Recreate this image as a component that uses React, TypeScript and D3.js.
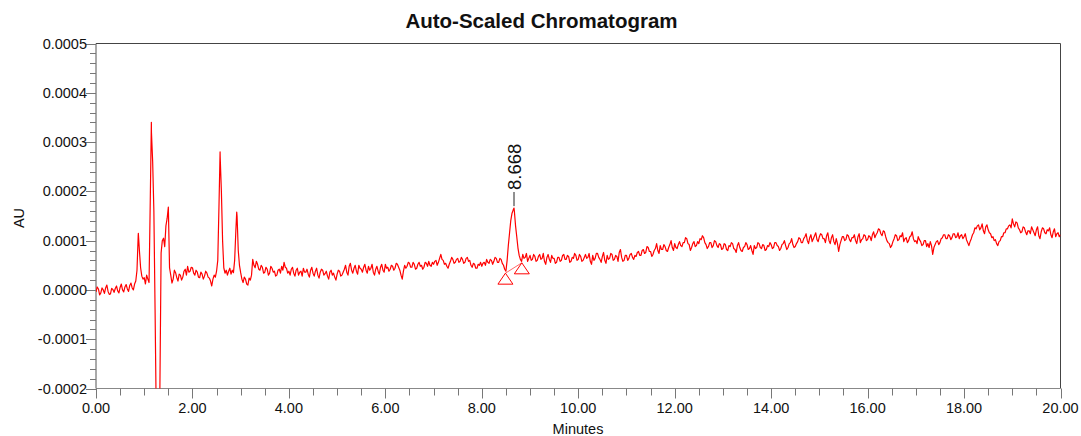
import * as d3 from 'd3';

const W = 1081;
const H = 436;

// detector sampling interval (minutes)
const SAMPLE_STEP = 0.025;

// absorbance in micro-AU, one value per SAMPLE_STEP from 0.000 to 20.000 min
const absorbance = [
  // 0 min
  -4, 6, 2, -10, -6, 4, 0, -7, 4, 10, -3, -9, -8, 3, 1, -5, 3, 8, -2, -6,
  5, 12, 0, -4, 6, 11, 2, -3, 9, 14, 4, 0, 12, 18, 40, 110, 80, 45, 28, 22,
  // 1 min
  25, 12, 30, 22, 15, 180, 320, 260, 160, -40, -260, -380, -420, -200, 75, 100, 105, 88, 130, 145,
  168, 45, 30, 14, 22, 40, 35, 25, 18, 32, 30, 20, 26, 38, 42, 30, 48, 36, 38, 46,
  // 2 min
  45, 34, 30, 40, 36, 26, 25, 36, 32, 22, 28, 38, 34, 26, 24, 18, 8, 22, 30, 26,
  38, 60, 170, 270, 200, 100, 45, 34, 40, 30, 38, 44, 32, 40, 35, 60, 120, 150, 80, 50,
  // 3 min
  35, 22, 15, 26, 22, 12, 10, 24, 20, 30, 62, 50, 45, 58, 52, 42, 40, 50, 46, 34,
  36, 46, 42, 30, 34, 48, 44, 36, 38, 28, 30, 40, 42, 34, 48, 40, 56, 46, 44, 34,
  // 4 min
  38, 30, 42, 46, 34, 28, 40, 44, 30, 36, 38, 28, 44, 36, 36, 42, 32, 26, 40, 46,
  34, 28, 38, 44, 30, 24, 36, 42, 40, 30, 33, 38, 28, 22, 36, 40, 30, 34, 26, 20,
  // 5 min
  32, 40, 38, 28, 30, 36, 42, 50, 36, 30, 48, 54, 40, 34, 44, 50, 38, 32, 50, 44,
  42, 36, 46, 52, 40, 34, 48, 40, 44, 52, 36, 30, 42, 48, 38, 32, 46, 52, 40, 36,
  // 6 min
  52, 44, 46, 38, 42, 50, 48, 40, 44, 54, 52, 46, 40, 30, 22, 38, 50, 44, 48, 56,
  54, 46, 46, 56, 52, 42, 44, 52, 56, 48, 50, 42, 46, 56, 54, 48, 58, 50, 48, 56,
  // 7 min
  52, 58, 60, 50, 56, 64, 72, 62, 60, 52, 54, 48, 44, 52, 58, 66, 62, 54, 56, 62,
  64, 56, 58, 66, 62, 54, 56, 64, 66, 58, 60, 50, 46, 54, 52, 44, 44, 52, 50, 56,
  // 8 min
  48, 54, 56, 50, 62, 56, 54, 62, 60, 52, 58, 66, 64, 56, 56, 64, 62, 54, 50, 42,
  38, 60, 90, 115, 140, 155, 162, 160, 130, 108, 85, 70, 62, 58, 72, 64, 66, 74, 58, 64,
  // 9 min
  70, 60, 62, 72, 68, 58, 60, 68, 72, 62, 64, 74, 58, 52, 66, 72, 62, 56, 70, 64,
  64, 54, 56, 66, 66, 58, 60, 70, 72, 62, 62, 70, 68, 56, 58, 66, 64, 74, 70, 60,
  // 10 min
  62, 72, 68, 58, 60, 66, 72, 64, 66, 74, 58, 52, 70, 60, 64, 74, 74, 66, 62, 56,
  68, 76, 60, 54, 70, 62, 64, 74, 72, 60, 62, 70, 68, 58, 76, 82, 66, 58, 60, 70,
  // 11 min
  70, 60, 64, 72, 74, 66, 62, 70, 68, 76, 78, 70, 70, 80, 82, 74, 76, 88, 86, 78,
  78, 68, 72, 80, 84, 94, 80, 74, 90, 82, 82, 92, 88, 80, 78, 86, 92, 100, 86, 80,
  // 12 min
  94, 86, 84, 92, 98, 90, 88, 96, 96, 106, 104, 94, 92, 80, 86, 94, 98, 88, 90, 98,
  94, 104, 102, 110, 106, 96, 92, 84, 88, 96, 96, 86, 90, 100, 98, 90, 86, 94, 92, 82,
  // 13 min
  84, 94, 92, 82, 80, 90, 88, 96, 94, 84, 82, 76, 90, 96, 86, 80, 78, 86, 88, 96,
  92, 82, 84, 90, 80, 72, 90, 84, 86, 96, 94, 86, 84, 92, 90, 80, 82, 90, 88, 96,
  // 14 min
  92, 84, 86, 96, 96, 90, 88, 80, 84, 92, 94, 100, 90, 82, 86, 94, 96, 104, 92, 86,
  88, 94, 98, 106, 104, 96, 96, 104, 108, 114, 100, 94, 106, 112, 98, 104, 110, 116, 102, 98,
  // 15 min
  108, 114, 112, 104, 104, 96, 110, 116, 100, 94, 106, 112, 98, 92, 104, 94, 78, 92, 100, 108,
  108, 100, 102, 112, 110, 102, 98, 106, 106, 112, 100, 94, 108, 114, 96, 102, 104, 112, 110, 100,
  // 16 min
  102, 110, 108, 100, 112, 118, 106, 112, 116, 124, 122, 114, 110, 120, 118, 108, 100, 96, 94, 86,
  90, 98, 104, 112, 110, 100, 102, 110, 108, 116, 98, 104, 106, 96, 100, 108, 110, 118, 104, 98,
  // 17 min
  100, 94, 108, 102, 98, 90, 92, 100, 100, 88, 94, 86, 98, 90, 72, 86, 92, 98, 100, 92,
  96, 104, 106, 112, 112, 104, 104, 112, 110, 102, 106, 114, 114, 106, 108, 116, 104, 110, 112, 104,
  // 18 min
  108, 114, 102, 96, 90, 98, 104, 112, 116, 126, 124, 130, 132, 122, 126, 134, 120, 114, 128, 132,
  122, 116, 114, 106, 108, 100, 102, 94, 90, 98, 100, 108, 108, 116, 116, 124, 124, 130, 132, 126,
  // 19 min
  144, 134, 128, 138, 136, 126, 122, 116, 118, 128, 126, 118, 112, 120, 120, 114, 128, 122, 116, 110,
  122, 128, 110, 104, 118, 126, 124, 116, 114, 122, 120, 126, 112, 106, 118, 124, 108, 114, 116, 108,
  // 20 min
  112,
];

// peak apexes that fall between samples: [minutes, micro-AU]
const apexes: [number, number][] = [
  [0.878, 115],
  [1.148, 340],
  [2.573, 280],
  [2.918, 158],
  [8.668, 166],
];

// integration start / end markers of the labelled peak: [minutes, micro-AU]
const integrationMarks: [number, number][] = [
  [8.49, 34],
  [8.83, 55],
];

const peakLabels = [{ time: 8.668, height: 166, text: '8.668' }];

const xTicks = [0, 2, 4, 6, 8, 10, 12, 14, 16, 18, 20];
const yTicks = [-0.0002, -0.0001, 0, 0.0001, 0.0002, 0.0003, 0.0004, 0.0005];

const FONT = 'Arial, "Liberation Sans", sans-serif';

export default function App() {
  const left = 96, right = 1060.5, top = 43.5, bottom = 388.5;

  const x = d3.scaleLinear().domain([0, 20]).range([left, right]);
  const y = d3.scaleLinear().domain([-0.0002, 0.0005]).range([bottom, top]);

  const points: [number, number][] = absorbance.map((v, i) => [i * SAMPLE_STEP, v]);
  apexes.forEach(a => points.push(a));
  points.sort((a, b) => a[0] - b[0]);

  const line = d3.line<[number, number]>()
    .x(d => x(d[0]))
    .y(d => y(d[1] * 1e-6));

  const xMinor = d3.range(0, 20.001, 0.5).filter(t => Math.abs(t % 2) > 1e-6);
  const yMinor = d3.range(-0.0002, 0.0005 + 1e-9, 0.00002)
    .filter(v => Math.abs(Math.round(v * 10000) - v * 10000) > 1e-6);

  return (
    <svg width={W} height={H} style={{ position: 'absolute', left: 0, top: 0, background: '#fff' }}>
      <defs>
        <clipPath id="plot-clip">
          <rect x={left} y={top} width={right - left} height={bottom - top} />
        </clipPath>
      </defs>

      <text x={541.5} y={28} textAnchor="middle" fontFamily={FONT} fontWeight="bold" fontSize={20.5} fill="#111">
        Auto-Scaled Chromatogram
      </text>

      {/* frame */}
      <line x1={left} x2={right} y1={top} y2={top} stroke="#444" />
      <line x1={right} x2={right} y1={top} y2={bottom} stroke="#444" />
      <line x1={left} x2={left} y1={top} y2={bottom} stroke="#555" />
      <line x1={left} x2={right} y1={bottom} y2={bottom} stroke="#888" strokeWidth={1.2} />

      {/* y ticks */}
      {yMinor.map(v => (
        <line key={'ym' + v} x1={left - 6} x2={left} y1={Math.round(y(v)) + 0.5} y2={Math.round(y(v)) + 0.5} stroke="#777" />
      ))}
      {yTicks.map(v => (
        <g key={'y' + v}>
          <line x1={left - 10} x2={left} y1={Math.round(y(v)) + 0.5} y2={Math.round(y(v)) + 0.5} stroke="#777" />
          <text x={87} y={y(v)} dy="0.35em" textAnchor="end" fontFamily={FONT} fontSize={14.5} fill="#111">
            {v.toFixed(4)}
          </text>
        </g>
      ))}

      {/* x ticks */}
      {xMinor.map(t => (
        <line key={'xm' + t} x1={Math.round(x(t)) + 0.5} x2={Math.round(x(t)) + 0.5} y1={bottom} y2={bottom + 7} stroke="#777" />
      ))}
      {xTicks.map(t => (
        <g key={'x' + t}>
          <line x1={Math.round(x(t)) + 0.5} x2={Math.round(x(t)) + 0.5} y1={bottom} y2={bottom + 10} stroke="#777" />
          <text x={x(t)} y={413} textAnchor="middle" fontFamily={FONT} fontSize={14.5} fill="#111">
            {t.toFixed(2)}
          </text>
        </g>
      ))}

      <text transform="translate(24,218) rotate(-90)" textAnchor="middle" fontFamily={FONT} fontSize={14.5} fill="#111">AU</text>
      <text x={578} y={433.5} textAnchor="middle" fontFamily={FONT} fontSize={14.5} fill="#111">Minutes</text>

      {/* trace */}
      <g clipPath="url(#plot-clip)">
        <path d={line(points) ?? ''} fill="none" stroke="#ff0000" strokeWidth={1.2} strokeLinejoin="round" />
        <line
          x1={x(integrationMarks[0][0])} y1={y(integrationMarks[0][1] * 1e-6)}
          x2={x(integrationMarks[1][0])} y2={y(integrationMarks[1][1] * 1e-6)}
          stroke="#ff4040" strokeWidth={0.8}
        />
        {integrationMarks.map(([t, v]) => {
          const cx = x(t), cy = y(v * 1e-6);
          return (
            <path key={'m' + t} d={`M${cx},${cy} L${cx + 7.5},${cy + 11} L${cx - 7.5},${cy + 11} Z`}
              fill="none" stroke="#ff0000" strokeWidth={1} />
          );
        })}
      </g>

      {/* peak labels */}
      {peakLabels.map(p => {
        const px = x(p.time);
        const py = y(p.height * 1e-6);
        return (
          <g key={p.text}>
            <line x1={px} x2={px} y1={py - 2} y2={192} stroke="#222" />
            <text transform={`translate(${px + 6.5},${190}) rotate(-90)`} fontFamily={FONT} fontSize={18.5} fill="#111">
              {p.text}
            </text>
          </g>
        );
      })}
    </svg>
  );
}
